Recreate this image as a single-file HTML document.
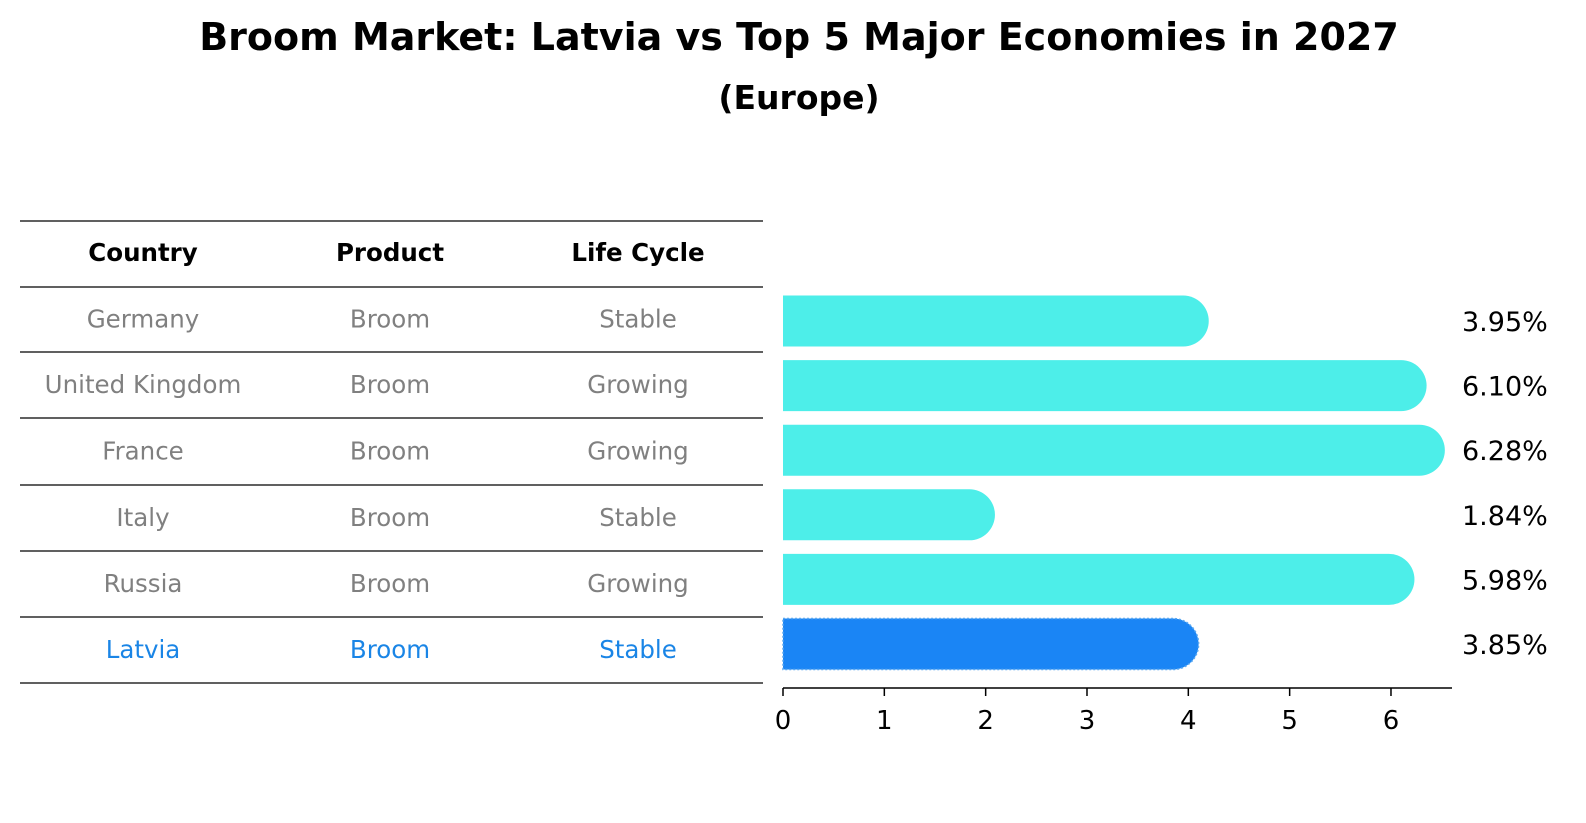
<!DOCTYPE html>
<html><head><meta charset="utf-8"><style>
html,body{margin:0;padding:0;background:#fff;overflow:hidden;width:1586px;height:823px}
svg{display:block}
</style></head><body>
<svg id="c" width="1586" height="823" xmlns="http://www.w3.org/2000/svg" style="font-family:'DejaVu Sans','Liberation Sans',sans-serif">
<text x="799" y="50" text-anchor="middle" font-size="38" font-weight="bold">Broom Market: Latvia vs Top 5 Major Economies in 2027</text>
<text x="799" y="109" text-anchor="middle" font-size="33" font-weight="bold">(Europe)</text>
<g id="tbl"></g>
<g id="bars"></g>
</svg>
<script>
const countries=["Germany","United Kingdom","France","Italy","Russia","Latvia"];
const products=["Broom","Broom","Broom","Broom","Broom","Broom"];
const lifeCycles=["Stable","Growing","Growing","Stable","Growing","Stable"];
const values=[3.95,6.10,6.28,1.84,5.98,3.85];
const valueLabels=["3.95%","6.10%","6.28%","1.84%","5.98%","3.85%"];
const ticks=[0,1,2,3,4,5,6];

const NS="http://www.w3.org/2000/svg";
function mk(tag,attrs,parent,txt){const e=document.createElementNS(NS,tag);for(const k in attrs)e.setAttribute(k,attrs[k]);if(txt!==undefined)e.textContent=txt;parent.appendChild(e);return e;}
const tbl=document.getElementById('tbl'),bars=document.getElementById('bars');
const x0=783,ppu=101.33;
const xs=v=>x0+v*ppu;
const rowY=i=>321+i*64.6;
const lines=[221,287,352,418,485,551,617,683];
lines.forEach((y,i)=>{const l=mk('line',{x1:20,x2:763,y1:y,y2:y,stroke:'#000','stroke-width':1.2},tbl);

});
const colX=[143,390,638];
["Country","Product","Life Cycle"].forEach((h,j)=>{const t=mk('text',{x:colX[j],y:261,'text-anchor':'middle','font-size':24.5,'font-weight':'bold'},tbl,h);

});
countries.forEach((c,i)=>{const col=i===countries.length-1?'#1a85e6':'#808080';const y=(lines[i+1]+lines[i+2])/2+8;
[c,products[i],lifeCycles[i]].forEach((v,j)=>{const t=mk('text',{x:colX[j],y:y,'text-anchor':'middle','font-size':24.5,fill:col},tbl,v);

});});
const h=51,r=25.5;
values.forEach((v,i)=>{const cy=rowY(i),xe=xs(v);const last=i===values.length-1;
const fill=last?'#1a85f5':'#4deee9';
const p=mk('path',{d:`M${x0},${cy-h/2} L${xe},${cy-h/2} A${r},${r} 0 0 1 ${xe},${cy+h/2} L${x0},${cy+h/2} Z`,fill:fill},bars);
if(last){p.setAttribute('stroke','#5aa8f0');p.setAttribute('stroke-dasharray','2,2');p.setAttribute('stroke-width','1.5');}


const t=mk('text',{x:1462,y:cy+10,'font-size':27},bars,valueLabels[i]);

});
const ax=mk('line',{x1:x0,x2:1452,y1:688,y2:688,stroke:'#000','stroke-width':1.5},bars);


ticks.forEach(tk=>{const x=xs(tk);const l=mk('line',{x1:x,x2:x,y1:688,y2:696,stroke:'#000','stroke-width':1.5},bars);


const t=mk('text',{x:x,y:729,'text-anchor':'middle','font-size':26},bars,String(tk));

});
</script>
</body></html>
